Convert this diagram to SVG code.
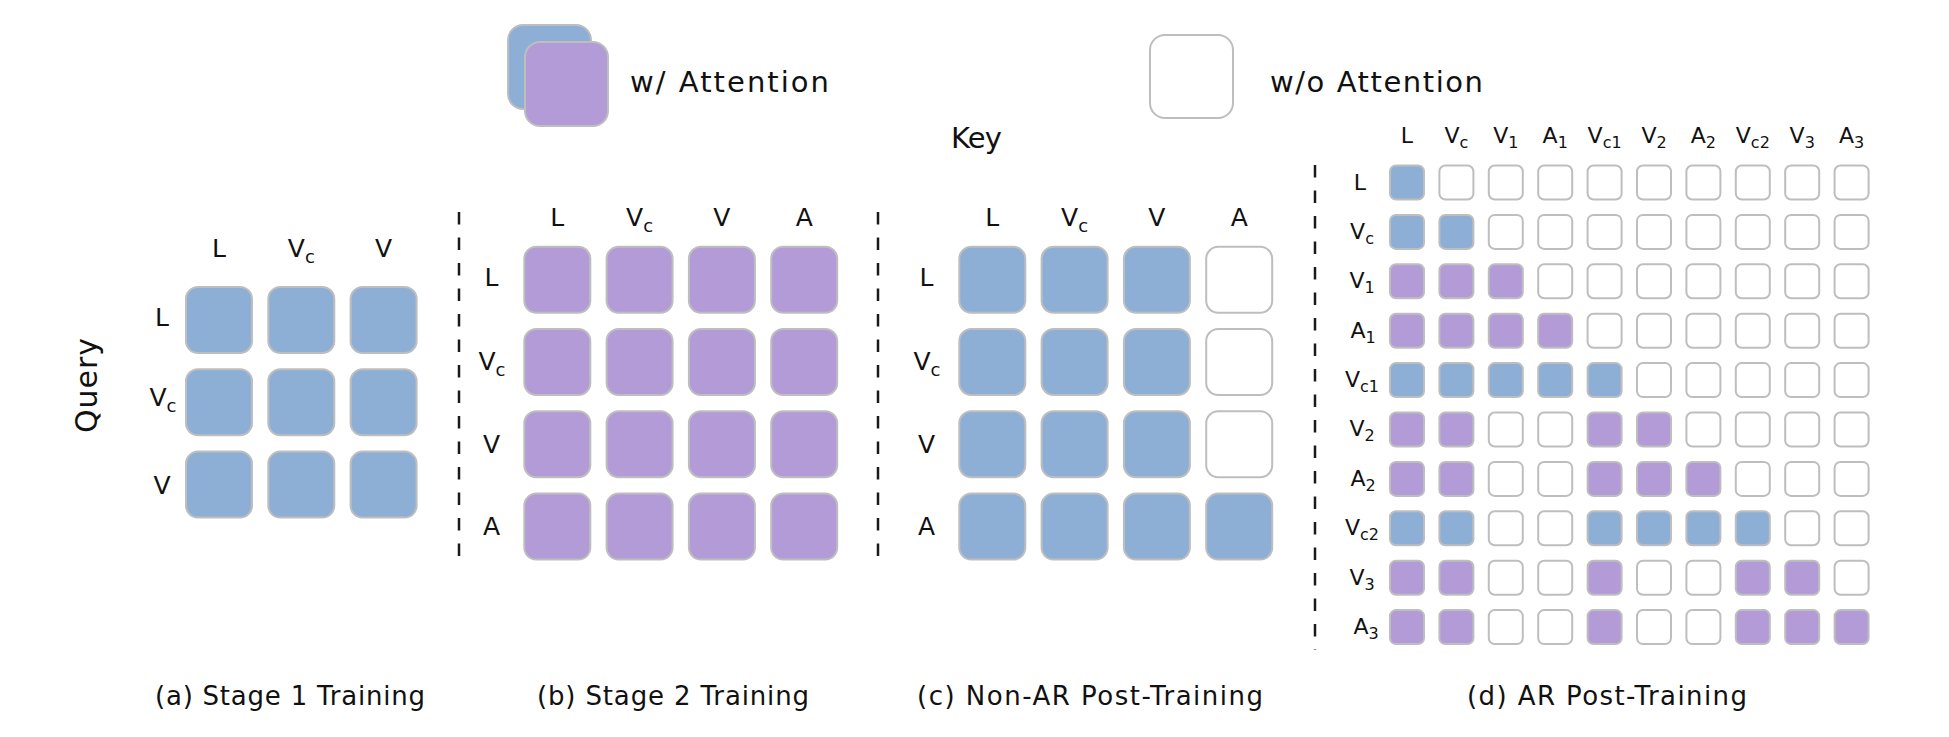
<svg xmlns="http://www.w3.org/2000/svg" width="1949" height="737" viewBox="0 0 1949 737">
<style>
text{font-family:"DejaVu Sans","Liberation Sans",sans-serif;fill:#111}
.b{fill:#8DAFD6;stroke:#BEBEBE;stroke-width:2}
.p{fill:#B29BD7;stroke:#BEBEBE;stroke-width:2}
.w{fill:#FFFFFF;stroke:#BEBEBE;stroke-width:2}
.lg{font-size:29px}
.cap{font-size:26px}
.m{font-size:25px;text-anchor:middle}
.d{font-size:22px;text-anchor:middle}
.sep{stroke:#1a1a1a;stroke-width:2.5;stroke-dasharray:12.5 13;fill:none}
</style>
<defs>
<rect id="big" width="66" height="66" rx="12"/>
<rect id="sm" width="34" height="34" rx="6"/>
</defs>
<rect width="1949" height="737" fill="#fff"/>

<g id="legend">
<rect class="b" x="508" y="25" width="83" height="84" rx="15"/>
<rect class="p" x="525" y="42" width="83" height="84" rx="15"/>
<text class="lg" x="630" y="92" textLength="199">w/ Attention</text>
<rect class="w" x="1150" y="35" width="83" height="83" rx="15"/>
<text class="lg" x="1270" y="92" textLength="213">w/o Attention</text>
</g>

<g id="axis-labels">
<text x="951" y="148" font-size="29" textLength="51">Key</text>
<text transform="translate(97,385.5) rotate(-90)" font-size="30" text-anchor="middle" textLength="95">Query</text>
</g>

<g id="separators">
<line class="sep" x1="459" y1="212" x2="459" y2="567"/>
<line class="sep" x1="878" y1="212" x2="878" y2="567"/>
<line class="sep" x1="1315" y1="165" x2="1315" y2="650"/>
</g>

<g id="panel-a">
<text class="m" x="219" y="257">L</text>
<text class="m" x="301.3" y="257">V<tspan font-size="18" dy="6">c</tspan></text>
<text class="m" x="383.6" y="257">V</text>
<text class="m" x="162" y="326">L</text>
<text class="m" x="163" y="406">V<tspan font-size="18" dy="6">c</tspan></text>
<text class="m" x="162" y="494">V</text>
<use href="#big" class="b" x="186" y="287"/><use href="#big" class="b" x="268.3" y="287"/><use href="#big" class="b" x="350.6" y="287"/>
<use href="#big" class="b" x="186" y="369.3"/><use href="#big" class="b" x="268.3" y="369.3"/><use href="#big" class="b" x="350.6" y="369.3"/>
<use href="#big" class="b" x="186" y="451.6"/><use href="#big" class="b" x="268.3" y="451.6"/><use href="#big" class="b" x="350.6" y="451.6"/>
<text class="cap" x="155" y="705" textLength="270">(a) Stage 1 Training</text>
</g>

<g id="panel-b">
<text class="m" x="557.3" y="226">L</text>
<text class="m" x="639.6" y="226">V<tspan font-size="18" dy="6">c</tspan></text>
<text class="m" x="721.9" y="226">V</text>
<text class="m" x="804.2" y="226">A</text>
<text class="m" x="491.5" y="286">L</text>
<text class="m" x="492" y="370">V<tspan font-size="18" dy="6">c</tspan></text>
<text class="m" x="491.5" y="453">V</text>
<text class="m" x="491.5" y="535">A</text>
<use href="#big" class="p" x="524.3" y="246.7"/><use href="#big" class="p" x="606.6" y="246.7"/><use href="#big" class="p" x="688.9" y="246.7"/><use href="#big" class="p" x="771.2" y="246.7"/>
<use href="#big" class="p" x="524.3" y="329"/><use href="#big" class="p" x="606.6" y="329"/><use href="#big" class="p" x="688.9" y="329"/><use href="#big" class="p" x="771.2" y="329"/>
<use href="#big" class="p" x="524.3" y="411.3"/><use href="#big" class="p" x="606.6" y="411.3"/><use href="#big" class="p" x="688.9" y="411.3"/><use href="#big" class="p" x="771.2" y="411.3"/>
<use href="#big" class="p" x="524.3" y="493.6"/><use href="#big" class="p" x="606.6" y="493.6"/><use href="#big" class="p" x="688.9" y="493.6"/><use href="#big" class="p" x="771.2" y="493.6"/>
<text class="cap" x="537" y="705" textLength="272">(b) Stage 2 Training</text>
</g>

<g id="panel-c">
<text class="m" x="992.3" y="226">L</text>
<text class="m" x="1074.6" y="226">V<tspan font-size="18" dy="6">c</tspan></text>
<text class="m" x="1156.9" y="226">V</text>
<text class="m" x="1239.2" y="226">A</text>
<text class="m" x="926.5" y="286">L</text>
<text class="m" x="927" y="370">V<tspan font-size="18" dy="6">c</tspan></text>
<text class="m" x="926.5" y="453">V</text>
<text class="m" x="926.5" y="535">A</text>
<use href="#big" class="b" x="959.3" y="246.7"/><use href="#big" class="b" x="1041.6" y="246.7"/><use href="#big" class="b" x="1123.9" y="246.7"/><use href="#big" class="w" x="1206.2" y="246.7"/>
<use href="#big" class="b" x="959.3" y="329"/><use href="#big" class="b" x="1041.6" y="329"/><use href="#big" class="b" x="1123.9" y="329"/><use href="#big" class="w" x="1206.2" y="329"/>
<use href="#big" class="b" x="959.3" y="411.3"/><use href="#big" class="b" x="1041.6" y="411.3"/><use href="#big" class="b" x="1123.9" y="411.3"/><use href="#big" class="w" x="1206.2" y="411.3"/>
<use href="#big" class="b" x="959.3" y="493.6"/><use href="#big" class="b" x="1041.6" y="493.6"/><use href="#big" class="b" x="1123.9" y="493.6"/><use href="#big" class="b" x="1206.2" y="493.6"/>
<text class="cap" x="917" y="705" textLength="346">(c) Non-AR Post-Training</text>
</g>

<g id="panel-d">
<text class="d" x="1407" y="143">L</text>
<text class="d" x="1456.4" y="143">V<tspan font-size="16" dy="5">c</tspan></text>
<text class="d" x="1505.8" y="143">V<tspan font-size="16" dy="5">1</tspan></text>
<text class="d" x="1555.2" y="143">A<tspan font-size="16" dy="5">1</tspan></text>
<text class="d" x="1604.6" y="143">V<tspan font-size="16" dy="5">c1</tspan></text>
<text class="d" x="1654" y="143">V<tspan font-size="16" dy="5">2</tspan></text>
<text class="d" x="1703.4" y="143">A<tspan font-size="16" dy="5">2</tspan></text>
<text class="d" x="1752.8" y="143">V<tspan font-size="16" dy="5">c2</tspan></text>
<text class="d" x="1802.2" y="143">V<tspan font-size="16" dy="5">3</tspan></text>
<text class="d" x="1851.6" y="143">A<tspan font-size="16" dy="5">3</tspan></text>

<text class="d" x="1360" y="190">L</text>
<text class="d" x="1362" y="239">V<tspan font-size="16" dy="5">c</tspan></text>
<text class="d" x="1362" y="288">V<tspan font-size="16" dy="5">1</tspan></text>
<text class="d" x="1363" y="338">A<tspan font-size="16" dy="5">1</tspan></text>
<text class="d" x="1362" y="387">V<tspan font-size="16" dy="5">c1</tspan></text>
<text class="d" x="1362" y="436">V<tspan font-size="16" dy="5">2</tspan></text>
<text class="d" x="1363" y="486">A<tspan font-size="16" dy="5">2</tspan></text>
<text class="d" x="1362" y="535">V<tspan font-size="16" dy="5">c2</tspan></text>
<text class="d" x="1362" y="585">V<tspan font-size="16" dy="5">3</tspan></text>
<text class="d" x="1366" y="634">A<tspan font-size="16" dy="5">3</tspan></text>

<g transform="translate(1390,165.5)">
<use href="#sm" class="b" x="0" y="0"/><use href="#sm" class="w" x="49.4" y="0"/><use href="#sm" class="w" x="98.8" y="0"/><use href="#sm" class="w" x="148.2" y="0"/><use href="#sm" class="w" x="197.6" y="0"/><use href="#sm" class="w" x="247" y="0"/><use href="#sm" class="w" x="296.4" y="0"/><use href="#sm" class="w" x="345.8" y="0"/><use href="#sm" class="w" x="395.2" y="0"/><use href="#sm" class="w" x="444.6" y="0"/>
<use href="#sm" class="b" x="0" y="49.4"/><use href="#sm" class="b" x="49.4" y="49.4"/><use href="#sm" class="w" x="98.8" y="49.4"/><use href="#sm" class="w" x="148.2" y="49.4"/><use href="#sm" class="w" x="197.6" y="49.4"/><use href="#sm" class="w" x="247" y="49.4"/><use href="#sm" class="w" x="296.4" y="49.4"/><use href="#sm" class="w" x="345.8" y="49.4"/><use href="#sm" class="w" x="395.2" y="49.4"/><use href="#sm" class="w" x="444.6" y="49.4"/>
<use href="#sm" class="p" x="0" y="98.8"/><use href="#sm" class="p" x="49.4" y="98.8"/><use href="#sm" class="p" x="98.8" y="98.8"/><use href="#sm" class="w" x="148.2" y="98.8"/><use href="#sm" class="w" x="197.6" y="98.8"/><use href="#sm" class="w" x="247" y="98.8"/><use href="#sm" class="w" x="296.4" y="98.8"/><use href="#sm" class="w" x="345.8" y="98.8"/><use href="#sm" class="w" x="395.2" y="98.8"/><use href="#sm" class="w" x="444.6" y="98.8"/>
<use href="#sm" class="p" x="0" y="148.2"/><use href="#sm" class="p" x="49.4" y="148.2"/><use href="#sm" class="p" x="98.8" y="148.2"/><use href="#sm" class="p" x="148.2" y="148.2"/><use href="#sm" class="w" x="197.6" y="148.2"/><use href="#sm" class="w" x="247" y="148.2"/><use href="#sm" class="w" x="296.4" y="148.2"/><use href="#sm" class="w" x="345.8" y="148.2"/><use href="#sm" class="w" x="395.2" y="148.2"/><use href="#sm" class="w" x="444.6" y="148.2"/>
<use href="#sm" class="b" x="0" y="197.6"/><use href="#sm" class="b" x="49.4" y="197.6"/><use href="#sm" class="b" x="98.8" y="197.6"/><use href="#sm" class="b" x="148.2" y="197.6"/><use href="#sm" class="b" x="197.6" y="197.6"/><use href="#sm" class="w" x="247" y="197.6"/><use href="#sm" class="w" x="296.4" y="197.6"/><use href="#sm" class="w" x="345.8" y="197.6"/><use href="#sm" class="w" x="395.2" y="197.6"/><use href="#sm" class="w" x="444.6" y="197.6"/>
<use href="#sm" class="p" x="0" y="247"/><use href="#sm" class="p" x="49.4" y="247"/><use href="#sm" class="w" x="98.8" y="247"/><use href="#sm" class="w" x="148.2" y="247"/><use href="#sm" class="p" x="197.6" y="247"/><use href="#sm" class="p" x="247" y="247"/><use href="#sm" class="w" x="296.4" y="247"/><use href="#sm" class="w" x="345.8" y="247"/><use href="#sm" class="w" x="395.2" y="247"/><use href="#sm" class="w" x="444.6" y="247"/>
<use href="#sm" class="p" x="0" y="296.4"/><use href="#sm" class="p" x="49.4" y="296.4"/><use href="#sm" class="w" x="98.8" y="296.4"/><use href="#sm" class="w" x="148.2" y="296.4"/><use href="#sm" class="p" x="197.6" y="296.4"/><use href="#sm" class="p" x="247" y="296.4"/><use href="#sm" class="p" x="296.4" y="296.4"/><use href="#sm" class="w" x="345.8" y="296.4"/><use href="#sm" class="w" x="395.2" y="296.4"/><use href="#sm" class="w" x="444.6" y="296.4"/>
<use href="#sm" class="b" x="0" y="345.8"/><use href="#sm" class="b" x="49.4" y="345.8"/><use href="#sm" class="w" x="98.8" y="345.8"/><use href="#sm" class="w" x="148.2" y="345.8"/><use href="#sm" class="b" x="197.6" y="345.8"/><use href="#sm" class="b" x="247" y="345.8"/><use href="#sm" class="b" x="296.4" y="345.8"/><use href="#sm" class="b" x="345.8" y="345.8"/><use href="#sm" class="w" x="395.2" y="345.8"/><use href="#sm" class="w" x="444.6" y="345.8"/>
<use href="#sm" class="p" x="0" y="395.2"/><use href="#sm" class="p" x="49.4" y="395.2"/><use href="#sm" class="w" x="98.8" y="395.2"/><use href="#sm" class="w" x="148.2" y="395.2"/><use href="#sm" class="p" x="197.6" y="395.2"/><use href="#sm" class="w" x="247" y="395.2"/><use href="#sm" class="w" x="296.4" y="395.2"/><use href="#sm" class="p" x="345.8" y="395.2"/><use href="#sm" class="p" x="395.2" y="395.2"/><use href="#sm" class="w" x="444.6" y="395.2"/>
<use href="#sm" class="p" x="0" y="444.6"/><use href="#sm" class="p" x="49.4" y="444.6"/><use href="#sm" class="w" x="98.8" y="444.6"/><use href="#sm" class="w" x="148.2" y="444.6"/><use href="#sm" class="p" x="197.6" y="444.6"/><use href="#sm" class="w" x="247" y="444.6"/><use href="#sm" class="w" x="296.4" y="444.6"/><use href="#sm" class="p" x="345.8" y="444.6"/><use href="#sm" class="p" x="395.2" y="444.6"/><use href="#sm" class="p" x="444.6" y="444.6"/>
</g>
<text class="cap" x="1467" y="705" textLength="280">(d) AR Post-Training</text>
</g>
</svg>
